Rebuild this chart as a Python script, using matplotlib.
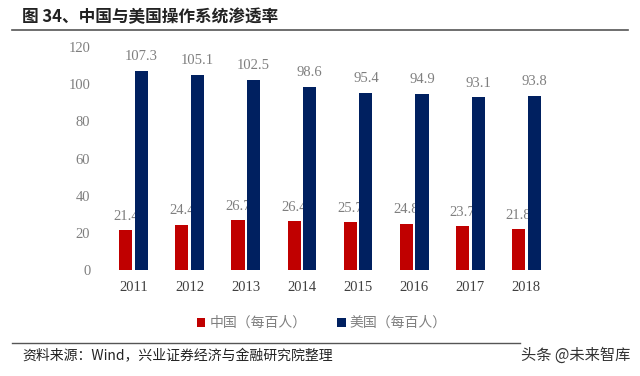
# 中国与美国操作系统渗透率 - grouped bars

import numpy as np
import matplotlib.pyplot as plt

#---------------------- DATA ------------------------#

years = ["2011", "2012", "2013", "2014", "2015", "2016", "2017", "2018"]
china = [21.4, 24.4, 26.7, 26.4, 25.7, 24.8, 23.7, 21.8]
usa = [107.3, 105.1, 102.5, 98.6, 95.4, 94.9, 93.1, 93.8]

#---------------------- STYLE ------------------------#

cjk = ["Noto Sans CJK SC", "DejaVu Sans"]
num_font = "Liberation Serif"
red = "#C00000"
navy = "#002060"
grey = "#7F7F7F"

fig = plt.figure(figsize=(6.4, 3.76), dpi=100)
ax = fig.add_axes([100 / 640, 106 / 376, 460 / 640, 223 / 376])

x = np.arange(len(years))
w = 0.235
off = 0.14

ax.bar(x - off, china, w, color=red, zorder=2, label="中国（每百人）")
ax.bar(x + off, usa, w, color=navy, zorder=4, label="美国（每百人）")

# value labels (china labels sit behind the navy bars, as in the original)
for i in range(len(years)):
    ax.text(x[i] - off, china[i] + 4, "%.1f" % china[i], ha="center", va="bottom",
            fontsize=10.5, color=grey, family=num_font, zorder=3)
    ax.text(x[i] + off, usa[i] + 4, "%.1f" % usa[i], ha="center", va="bottom",
            fontsize=10.5, color=grey, family=num_font, zorder=5)

ax.set_xlim(-0.6, 7.6)
ax.set_ylim(0, 120)
ax.set_yticks(np.arange(0, 121, 20))
ax.set_xticks(x)
ax.set_xticklabels(years)
for s in ax.spines.values():
    s.set_visible(False)
ax.tick_params(axis="both", length=0, labelsize=10.5)
ax.tick_params(axis="y", pad=7, labelcolor=grey)
ax.tick_params(axis="x", pad=8, labelcolor="#404040")
for lbl in ax.get_xticklabels() + ax.get_yticklabels():
    lbl.set_family(num_font)

leg = ax.legend(loc="center", bbox_to_anchor=(322 / 640, 1 - 323 / 376),
                bbox_transform=fig.transFigure, ncol=2, frameon=False,
                prop={"family": cjk, "size": 10}, handlelength=0.6, handleheight=0.6,
                handletextpad=0.3, columnspacing=2.2)
for t in leg.get_texts():
    t.set_color(grey)

#---------------------- TITLE / SOURCE ------------------------#

fig.text(22 / 640, 1 - 17 / 376, "图 34、中国与美国操作系统渗透率", ha="left", va="center",
         fontsize=12, fontweight="bold", family=cjk, color="#222222")
fig.add_artist(plt.Line2D([12 / 640, 628 / 640], [1 - 30 / 376, 1 - 30 / 376],
                          color="#555555", lw=1.2))
fig.add_artist(plt.Line2D([12 / 640, 520 / 640], [1 - 343 / 376, 1 - 343 / 376],
                          color="#555555", lw=1.0))
fig.text(22 / 640, 1 - 356 / 376, "资料来源：Wind，兴业证券经济与金融研究院整理", ha="left",
         va="center", fontsize=10, family=cjk, color="#222222")
fig.text(630 / 640, 1 - 355 / 376, "头条 @未来智库", ha="right", va="center",
         fontsize=11, family=cjk, color="#333333")

fig.savefig("out.png", dpi=100)
